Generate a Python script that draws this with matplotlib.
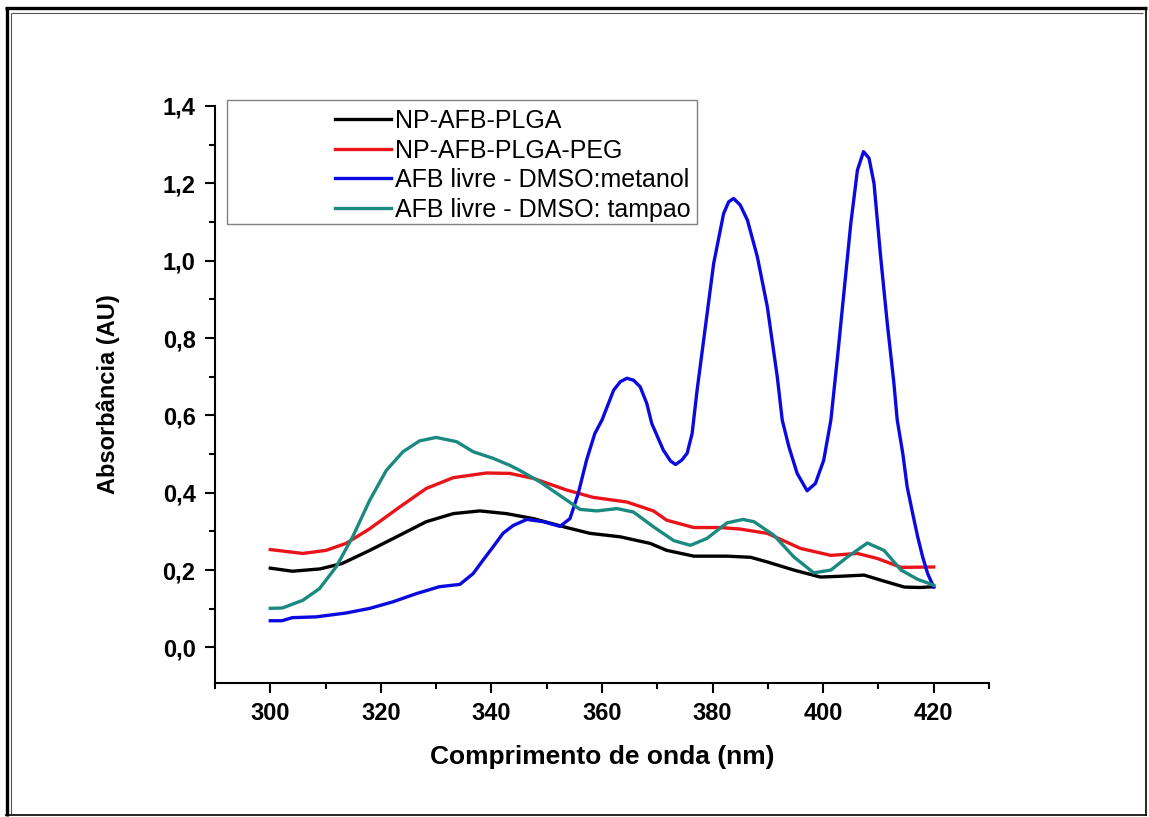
import matplotlib
matplotlib.use("Agg")
import matplotlib.pyplot as plt
from matplotlib.lines import Line2D
from matplotlib.patches import Rectangle
from matplotlib.ticker import MultipleLocator, FuncFormatter

# ---------------- data ----------------
labels = ["NP-AFB-PLGA", "NP-AFB-PLGA-PEG",
          "AFB livre - DMSO:metanol", "AFB livre - DMSO: tampao"]

black_x = [300, 304, 309, 313, 318, 323.4, 328.2, 333.1, 337.9, 342.7, 347.6, 353.6,
           357.8, 363.3, 368.7, 371.7, 376.6, 382.6, 386.9, 389.9, 394.7, 399.5,
           403.1, 407.4, 410.4, 414.7, 417.5, 420]
black_y = [0.205, 0.197, 0.203, 0.217, 0.251, 0.290, 0.325, 0.346, 0.353, 0.346, 0.333,
           0.310, 0.295, 0.286, 0.269, 0.251, 0.236, 0.236, 0.233, 0.221, 0.200, 0.182,
           0.184, 0.187, 0.174, 0.156, 0.155, 0.157]

red_x = [300, 305.9, 310.1, 313.7, 318, 323.4, 328.2, 333.1, 339.1, 343.3, 347.6, 353.6,
         358.4, 364.5, 369.3, 371.7, 376.6, 381.4, 385, 389.9, 395.9, 401.4, 406.2,
         409.8, 414.1, 420]
red_y = [0.253, 0.243, 0.251, 0.269, 0.307, 0.363, 0.411, 0.439, 0.451, 0.450, 0.437,
         0.407, 0.388, 0.376, 0.353, 0.329, 0.310, 0.310, 0.306, 0.295, 0.256, 0.238,
         0.243, 0.230, 0.207, 0.208]

blue_x = [300, 302.1, 304, 308.3, 313.7, 318, 322.2, 326.4, 330.6, 334.3, 336.7, 338.5,
          340.3, 342.1, 343.9, 346.4, 349.4, 352.4, 354.2, 354.9, 355.7, 357.2, 358.7,
          360, 362.1, 363.3, 364.5, 365.7, 366.9, 368.1, 369, 371.1, 372.4, 373.3,
          374.4, 375.4, 376.3, 377.2, 380.2, 382.0, 382.9, 383.8, 385.0, 386.3, 388.1,
          389.9, 391.7, 392.6, 393.8, 395.3, 397.1, 398.6, 400.1, 401.4, 402.6, 405.0,
          406.2, 407.3, 408.3, 409.2, 410.4, 411.6, 412.8, 413.4, 414.4, 415.2, 416.2,
          417.1, 418.0, 418.9, 420]
blue_y = [0.069, 0.069, 0.077, 0.079, 0.089, 0.101, 0.118, 0.139, 0.157, 0.163, 0.191,
          0.226, 0.260, 0.295, 0.315, 0.331, 0.325, 0.313, 0.333, 0.363, 0.398, 0.484,
          0.553, 0.588, 0.665, 0.687, 0.696, 0.691, 0.674, 0.631, 0.579, 0.510, 0.482,
          0.473, 0.484, 0.502, 0.553, 0.665, 0.993, 1.122, 1.152, 1.161, 1.144, 1.105,
          1.010, 0.881, 0.700, 0.588, 0.519, 0.450, 0.405, 0.424, 0.484, 0.588, 0.751,
          1.096, 1.234, 1.282, 1.265, 1.200, 1.010, 0.838, 0.683, 0.588, 0.502, 0.415,
          0.346, 0.286, 0.234, 0.191, 0.156]

teal_x = [300, 302.2, 305.9, 308.9, 311.9, 314.9, 318, 321, 324, 327, 330, 333.7, 336.7,
          340.3, 343.3, 345.1, 348.8, 353.6, 356, 359.1, 362.7, 365.7, 369.3, 373, 376,
          379, 382.6, 385.5, 387.5, 391.1, 394.7, 398.3, 401.4, 404.4, 408, 411, 414.1,
          417.1, 420]
teal_y = [0.101, 0.102, 0.122, 0.152, 0.208, 0.286, 0.381, 0.458, 0.506, 0.534, 0.543,
          0.532, 0.506, 0.489, 0.471, 0.458, 0.428, 0.381, 0.357, 0.353, 0.359, 0.350,
          0.312, 0.276, 0.264, 0.282, 0.322, 0.331, 0.325, 0.290, 0.234, 0.193, 0.200,
          0.234, 0.270, 0.251, 0.200, 0.176, 0.161]

x_ticks = [300, 320, 340, 360, 380, 400, 420]
y_ticks = [0.0, 0.2, 0.4, 0.6, 0.8, 1.0, 1.2, 1.4]

colors = ["#000000", "#e8141a", "#0a0ae0", "#1a8a80"]

# ---------------- figure ----------------
W, H = 1149, 817
fig = plt.figure(figsize=(W / 100, H / 100), dpi=100)
FONT = "Liberation Sans"

ax_l, ax_r, ax_t, ax_b = 215, 989, 106, 683
ax = fig.add_axes([ax_l / W, 1 - ax_b / H, (ax_r - ax_l) / W, (ax_b - ax_t) / H])

series = [(black_x, black_y), (red_x, red_y), (blue_x, blue_y), (teal_x, teal_y)]
for (xs, ys), c, lab in zip(series, colors, labels):
    ax.plot(xs, ys, color=c, lw=2.4, label=lab, solid_joinstyle="round")

ax.set_xlim(290, 430)
ax.set_ylim(-0.092, 1.4)
ax.set_xticks(x_ticks)
ax.set_yticks(y_ticks)
ax.xaxis.set_minor_locator(MultipleLocator(10))
ax.yaxis.set_minor_locator(MultipleLocator(0.1))
ax.yaxis.set_major_formatter(FuncFormatter(lambda v, p: f"{v:.1f}".replace(".", ",")))
ax.xaxis.set_major_formatter(FuncFormatter(lambda v, p: f"{v:.0f}"))

for s in ["top", "right"]:
    ax.spines[s].set_visible(False)
for s in ["left", "bottom"]:
    ax.spines[s].set_linewidth(1.5)

ax.tick_params(which="major", direction="out", length=7, width=1.5, pad=7)
ax.tick_params(which="minor", direction="out", length=4.5, width=1.5)
for lbl in ax.get_xticklabels() + ax.get_yticklabels():
    lbl.set_fontfamily(FONT)
    lbl.set_fontweight("bold")
    lbl.set_fontsize(17)

ax.set_xlabel("Comprimento de onda (nm)", fontfamily=FONT, fontweight="bold", fontsize=19)
ax.set_ylabel("Absorbância (AU)", fontfamily=FONT, fontweight="bold", fontsize=17)
ax.xaxis.set_label_coords(0.5, -(745 - ax_b) / (ax_b - ax_t))
ax.yaxis.set_label_coords(-(215 - 120) / (ax_r - ax_l), 0.5)

# legend box
fig.add_artist(Rectangle((227 / W, 1 - 224 / H), 470 / W, 124 / H,
                         transform=fig.transFigure, facecolor="white",
                         edgecolor="#808080", lw=1.0, zorder=5))
fs_leg = 18
leg = fig.legend(loc="upper left", bbox_to_anchor=(335 / W, 1 - 109 / H),
                 bbox_transform=fig.transFigure, frameon=False, borderpad=0,
                 borderaxespad=0, handlelength=2.25, handletextpad=0.15,
                 labelspacing=0.22, prop={"family": FONT, "size": fs_leg})
leg.set_zorder(6)

# page frame (document border)
def fline(x0, y0, x1, y1, lw, color="black"):
    fig.add_artist(Line2D([x0 / W, x1 / W], [1 - y0 / H, 1 - y1 / H],
                          transform=fig.transFigure, color=color, lw=lw,
                          solid_capstyle="butt"))

fline(6.5, 7, 6.5, 816, 2.4)
fline(5, 8, 1147, 8, 2.4)
fline(11, 13, 11, 814, 0.8, "#555555")
fline(11, 13, 1143, 13, 0.8, "#555555")
fline(1145.5, 7, 1145.5, 816, 1.2)
fline(5, 815, 1147, 815, 1.2)

fig.savefig("out.png", dpi=100)
